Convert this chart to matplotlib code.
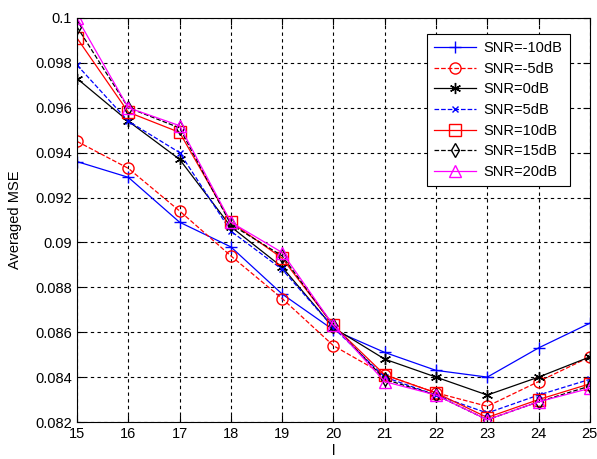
import matplotlib
matplotlib.use("Agg")
import matplotlib.pyplot as plt

plt.rcParams['font.family'] = ['Liberation Sans', 'DejaVu Sans']

# data
l_vals = [15, 16, 17, 18, 19, 20, 21, 22, 23, 24, 25]
snr_m10 = [0.0936, 0.0929, 0.0909, 0.0898, 0.0877, 0.0861, 0.0851, 0.0843, 0.0840, 0.0853, 0.0864]
snr_m5 = [0.0945, 0.0933, 0.0914, 0.0894, 0.0875, 0.0854, 0.0841, 0.0833, 0.0827, 0.0838, 0.0849]
snr_0 = [0.0973, 0.0954, 0.0937, 0.0907, 0.0889, 0.0862, 0.0848, 0.0840, 0.0832, 0.0840, 0.0849]
snr_5 = [0.0979, 0.0954, 0.0940, 0.0905, 0.0888, 0.0862, 0.0840, 0.0832, 0.0824, 0.0832, 0.0839]
snr_10 = [0.0991, 0.0958, 0.0949, 0.0909, 0.0893, 0.0863, 0.0841, 0.0833, 0.0822, 0.0830, 0.0837]
snr_15 = [0.0996, 0.0960, 0.0951, 0.0908, 0.0894, 0.0863, 0.0839, 0.0832, 0.0821, 0.0829, 0.0836]
snr_20 = [0.1000, 0.0960, 0.0952, 0.0909, 0.08955, 0.0863, 0.0838, 0.0832, 0.0821, 0.0829, 0.0835]

fig = plt.figure(figsize=(5.97, 4.59), dpi=100)
ax = fig.add_axes([0.129, 0.0806, 0.859, 0.8804])

lw = 0.9
ax.plot(l_vals, snr_m10, color='b', linestyle='-', marker='+', markersize=9, lw=lw, label='SNR=-10dB')
ax.plot(l_vals, snr_m5, color='r', linestyle='--', marker='o', markersize=8, mfc='none', lw=lw, label='SNR=-5dB')
ax.plot(l_vals, snr_0, color='k', linestyle='-', marker=(6, 2, 0), markersize=8, lw=lw, label='SNR=0dB')
ax.plot(l_vals, snr_5, color='b', linestyle='--', marker='x', markersize=5, lw=lw, label='SNR=5dB')
ax.plot(l_vals, snr_10, color='r', linestyle='-', marker='s', markersize=8, mfc='none', lw=lw, label='SNR=10dB')
ax.plot(l_vals, snr_15, color='k', linestyle='--', marker='d', markersize=7, mfc='none', lw=lw, label='SNR=15dB')
ax.plot(l_vals, snr_20, color='#FF00FF', linestyle='-', marker='^', markersize=8, mfc='none', lw=lw, label='SNR=20dB')

ax.set_xlim(15, 25)
ax.set_ylim(0.082, 0.1)
ax.set_xticks(l_vals)
ax.set_yticks([0.082, 0.084, 0.086, 0.088, 0.09, 0.092, 0.094, 0.096, 0.098, 0.1])
ax.set_yticklabels(['0.082', '0.084', '0.086', '0.088', '0.09', '0.092', '0.094', '0.096', '0.098', '0.1'])
ax.tick_params(direction='in', top=True, right=True, labelsize=10.5, length=5)
ax.grid(True, color='k', linestyle=(0, (3, 3)), linewidth=0.8)
for s in ax.spines.values():
    s.set_linewidth(0.8)

ax.set_xlabel('l', fontsize=10.5, labelpad=2)
ax.set_ylabel('Averaged MSE', fontsize=10.5, labelpad=10)

leg = ax.legend(loc='upper right', bbox_to_anchor=(0.975, 0.978), fontsize=10.5,
                fancybox=False, framealpha=1, edgecolor='k', handlelength=2.9,
                borderpad=0.5, labelspacing=0.45, handletextpad=0.5)
leg.get_frame().set_linewidth(0.8)

plt.savefig("out.png", dpi=100)
